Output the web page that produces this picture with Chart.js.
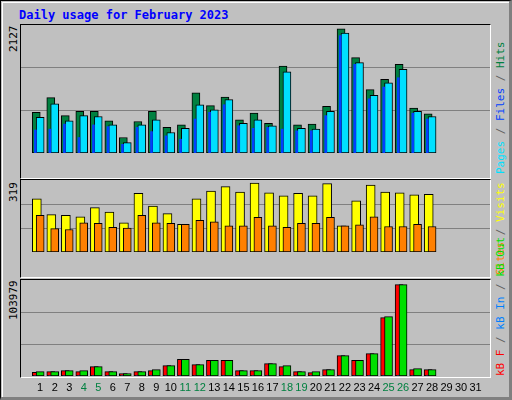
<!DOCTYPE html>
<html><head><meta charset="utf-8">
<script src="https://cdn.jsdelivr.net/npm/chart.js@4"></script>
<style>
body{margin:0;width:512px;height:400px;overflow:hidden;background:#C0C0C0;font-family:"DejaVu Sans",sans-serif}
#frame{position:absolute;left:0;top:0;border:1px solid #000;border-right:3px solid #808080;border-bottom:3px solid #808080;box-sizing:border-box;width:512px;height:400px}
#inner{position:absolute;left:1px;top:1px;right:0;bottom:0;border-top:1px solid #fff;border-left:1px solid #fff}
.panel{position:absolute;left:20px;width:471px;border-top:1px solid #000;border-left:1px solid #000;border-right:1px solid #fff;border-bottom:1px solid #fff;box-sizing:border-box}
canvas{position:absolute}
.rl{position:absolute;font-family:"DejaVu Sans Mono",monospace;font-size:11px;transform-origin:0 0;white-space:nowrap;line-height:13px}
#title{position:absolute;left:19px;top:8px;font:bold 12px "DejaVu Sans Mono",monospace;color:#0000FF}
</style></head><body>
<div id="frame"><div id="inner"></div></div>
<div id="title">Daily usage for February 2023</div>
<div class="panel" style="top:24px;height:155px"></div>
<div class="panel" style="top:179px;height:99px"></div>
<div class="panel" style="top:279px;height:99px"></div>
<canvas id="c1" style="left:21px;top:25px;width:469px;height:152px"></canvas>
<canvas id="c2" style="left:21px;top:180px;width:469px;height:96px"></canvas>
<canvas id="c3" style="left:21px;top:280px;width:469px;height:120px"></canvas>
<div class="rl" style="left:7px;top:52px;transform:rotate(-90deg)">2127</div>
<div class="rl" style="left:7px;top:202px;transform:rotate(-90deg)">319</div>
<div class="rl" style="left:7px;top:320px;transform:rotate(-90deg)">103979</div>
<div class="rl" style="left:494px;top:174px;transform:rotate(-90deg)"><span style="color:#00E0FF">Pages</span><span style="color:#606060"> / </span><span style="color:#0040FF">Files</span><span style="color:#606060"> / </span><span style="color:#008040">Hits</span></div>
<div class="rl" style="left:494px;top:275px;transform:rotate(-90deg)"><span style="color:#FF8000">Sites</span><span style="color:#606060"> / </span><span style="color:#FFFF00">Visits</span></div>
<div class="rl" style="left:494px;top:376px;transform:rotate(-90deg)"><span style="color:#FF0000">kB F</span><span style="color:#606060"> / </span><span style="color:#0080FF">kB In</span><span style="color:#606060"> / </span><span style="color:#00E000">kB Out</span></div>
<script>
const days=[1,2,3,4,5,6,7,8,9,10,11,12,13,14,15,16,17,18,19,20,21,22,23,24,25,26,27,28];
const allDays=[...Array(31)].map((_,i)=>i+1);
const weekend=[4,5,11,12,18,19,25,26];
const hits=[698,948,640,712,712,553,265,539,712,438,481,1030,813,957,568,683,510,1491,481,495,798,2127,1635,1087,1260,1520,770,669];
const files=[611,842,553,640,625,481,178,481,568,351,423,827,741,914,510,568,467,1390,423,409,712,2054,1549,986,1203,1433,712,625];
const pages=[394,409,495,265,481,452,149,438,366,293,236,582,697,827,467,423,438,409,380,380,640,2011,1520,928,1130,1289,683,582];
const visits=[246,173,170,163,205,184,135,271,212,177,128,246,281,302,277,319,274,260,271,260,316,121,236,309,277,274,264,267];
const sites=[170,108,104,135,132,114,111,170,135,132,128,146,139,121,121,160,121,114,132,132,160,121,125,163,118,118,128,118];
const kbF=[4175,4934,6072,4934,10626,4934,2657,4934,6072,11765,18975,12903,17837,17837,6072,6072,14042,10626,4934,3795,7211,23150,17837,25427,66413,103979,7211,7211];
const kbIn=days.map(()=>0);
const kbOut=[4934,4934,6072,6072,10626,4934,2657,4934,7211,11765,18975,12903,17837,17837,6072,6072,14042,11765,4934,4934,7211,23150,17837,25427,67551,103979,8349,7211];
const maxes=[2127,319,103979];

function ds(vals,off,color,w,order,border){
  return {data:vals.map((v,i)=>({x:days[i]+off,y:v})),backgroundColor:color,borderColor:'#000',
    borderWidth:border===undefined?1:border,barThickness:w,order:order,grouped:false,borderSkipped:false};
}
function mk(id,sets,max,frac,showX){
  new Chart(document.getElementById(id),{type:'bar',data:{datasets:sets},
   options:{responsive:false,animation:false,devicePixelRatio:1,
    layout:{padding:0},plugins:{legend:{display:false},tooltip:{enabled:false}},
    scales:{
     x:{type:'linear',min:0.2,max:31.47,display:showX,
        grid:{display:false,drawTicks:false},border:{display:false},
        afterBuildTicks:s=>{s.ticks=allDays.map(v=>({value:v}));},
        afterFit:s=>{s.height=24;},
        ticks:{padding:5,autoSkip:false,maxRotation:0,font:{family:'Liberation Sans',size:11},
          color:c=>weekend.includes(c.tick.value)?'#008040':'#000',callback:v=>v}},
     y:{min:0,max:max*frac,border:{display:false},
        afterFit:s=>{s.width=0;},
        afterBuildTicks:s=>{s.ticks=[{value:max*frac/3},{value:max*frac*2/3}];},
        grid:{color:'#808080',drawTicks:false,lineWidth:1},ticks:{display:false}}
    }}});
}
mk('c1',[ds(hits,-0.27,'#008040',8,2),ds(files,0,'#00E0FF',8,1),ds(pages,-0.33,'#0040FF',2,0,0)],maxes[0],1.031,false);
mk('c2',[ds(visits,-0.23,'#FFFF00',9,1),ds(sites,0,'#FF8000',8,0)],maxes[1],1.043,false);
mk('c3',[ds(kbF,-0.27,'#FF0000',8,2),ds(kbIn,-0.33,'#0080FF',2,1,0),ds(kbOut,0,'#00E000',8,0)],maxes[2],1.05,true);
</script></body></html>
